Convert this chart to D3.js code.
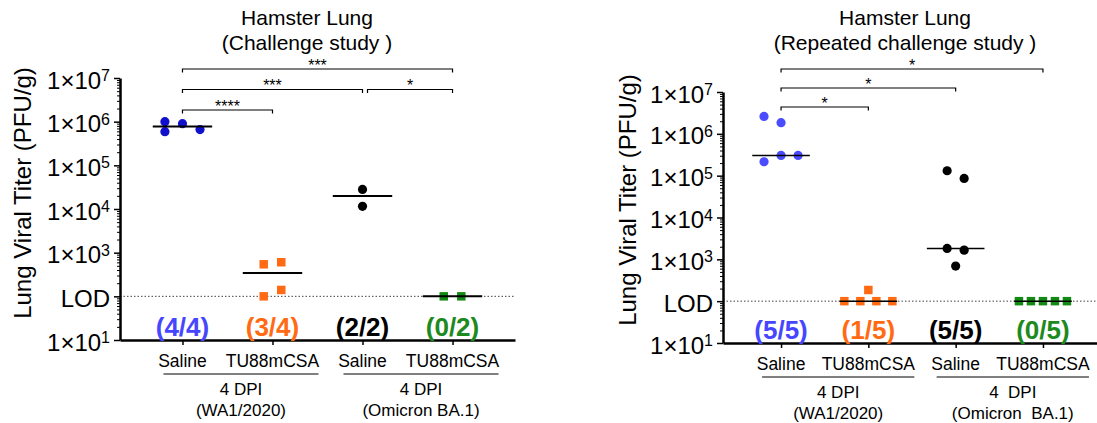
<!DOCTYPE html>
<html>
<head>
<meta charset="utf-8">
<script src="https://cdn.jsdelivr.net/npm/d3@7"></script>
<style>
  body { margin: 0; background: #fff; }
  text { font-family: "Liberation Sans", Arial, sans-serif; }
</style>
</head>
<body>
<div id="container"></div>
<script>
/* DATA */
const categories = ["Saline", "TU88mCSA", "Saline", "TU88mCSA"];
const LOD = 100;
const majorTicks = [10, 100, 1e3, 1e4, 1e5, 1e6, 1e7];

// Challenge study (left)
const challengeTitle = ["Hamster Lung", "(Challenge study )"];
const challengeSalineWA1 = [9e5, 1e6, 6.6e5, 5.9e5];
const challengeTU88WA1 = [603, 542, 140, 100];
const challengeSalineBA1 = [2.8e4, 1.15e4];
const challengeTU88BA1 = [100, 100];
const challengeCounts = ["(4/4)", "(3/4)", "(2/2)", "(0/2)"];
const challengeGroups = [["4 DPI", "(WA1/2020)"], ["4 DPI", "(Omicron BA.1)"]];
const challengeStats = [
  { a: 0, b: 1, stars: "****", level: 0 },
  { a: 0, b: 2, stars: "***", level: 1 },
  { a: 2, b: 3, stars: "*", level: 1 },
  { a: 0, b: 3, stars: "***", level: 2 }
];

// Repeated challenge study (right)
const repeatTitle = ["Hamster Lung", "(Repeated challenge study )"];
const repeatSalineWA1 = [1.85e6, 2.6e6, 3.05e5, 2.15e5, 3.05e5];
const repeatTU88WA1 = [100, 100, 100, 100, 185];
const repeatSalineBA1 = [8.6e4, 1.31e5, 1.66e3, 1.82e3, 690];
const repeatTU88BA1 = [100, 100, 100, 100, 100];
const repeatCounts = ["(5/5)", "(1/5)", "(5/5)", "(0/5)"];
const repeatGroups = [["4 DPI", "(WA1/2020)"], ["4  DPI", "(Omicron  BA.1)"]];
const repeatStats = [
  { a: 0, b: 1, stars: "*", level: 0 },
  { a: 0, b: 2, stars: "*", level: 1 },
  { a: 0, b: 3, stars: "*", level: 2 }
];

/* STYLE */
const countColors = ["#4646ff", "#ff6a13", "#000000", "#1c8a1c"];

const svg = d3.select("#container")
  .append("svg")
  .attr("width", 1097)
  .attr("height", 423);

// Prism-like scatter: greedy slots, then centre rows of touching points
function layoutPoints(values, y, step, spreadMax, minDist) {
  const pts = values.map(v => ({ v, py: y(v), slot: 0 }));
  const order = [0, -1, 1, -2, 2, -3, 3];
  pts.forEach((p, i) => {
    const placed = pts.slice(0, i);
    p.slot = order.find(s => !placed.some(q => q.slot === s && Math.abs(q.py - p.py) < minDist));
  });
  const sorted = pts.slice().sort((a, b) => a.py - b.py);
  const clusters = [];
  sorted.forEach((p, i) => {
    if (i && p.py - sorted[i - 1].py < minDist) clusters[clusters.length - 1].push(p);
    else clusters.push([p]);
  });
  const lo = c => d3.min(c, p => p.slot), hi = c => d3.max(c, p => p.slot);
  const maxW = d3.max(clusters, c => hi(c) - lo(c) + 1);
  const dx = Math.min(step, spreadMax / Math.max(1, maxW - 1));
  clusters.forEach(c => {
    const w = hi(c) - lo(c) + 1;
    const shift = (maxW % 2 === 0 || w % 2 === 1) ? -(hi(c) + lo(c)) / 2 : 0;
    c.forEach(p => { p.dx = (p.slot + shift) * dx; });
  });
  return pts;
}

function drawPanel(cfg) {
  const g = svg.append("g");

  const x = d3.scalePoint()
    .domain(d3.range(categories.length))
    .range([cfg.x0, cfg.x1])
    .padding(cfg.pad);

  const y = d3.scaleLog()
    .domain([10, 1e7])
    .range([cfg.yBottom, cfg.yTop]);

  // Titles
  cfg.title.forEach((t, i) => {
    g.append("text")
      .attr("x", cfg.titleX)
      .attr("y", 25 + i * 25)
      .attr("text-anchor", "middle")
      .attr("font-size", 21)
      .style("white-space", "pre")
      .text(t);
  });

  // Y axis label
  g.append("text")
    .attr("transform", `translate(${cfg.yLabelX},${cfg.yLabelY}) rotate(-90)`)
    .attr("text-anchor", "middle")
    .attr("font-size", 24)
    .text("Lung Viral Titer (PFU/g)");

  // LOD dotted line
  g.append("line")
    .attr("x1", cfg.x0)
    .attr("x2", cfg.x1)
    .attr("y1", y(LOD))
    .attr("y2", y(LOD))
    .attr("stroke", "#444")
    .attr("stroke-width", 1)
    .attr("stroke-dasharray", "1.5,2");

  // Minor ticks
  const minor = [];
  for (let k = 1; k < 7; k++) for (let m = 2; m < 10; m++) minor.push(m * Math.pow(10, k));
  const minorAxis = g.append("g")
    .attr("transform", `translate(${cfg.x0},0)`)
    .call(d3.axisLeft(y).tickValues(minor).tickSize(3).tickFormat(""));
  minorAxis.select(".domain").remove();
  minorAxis.selectAll("line").attr("stroke-width", 1);

  // Major y axis
  const yAxis = g.append("g")
    .attr("transform", `translate(${cfg.x0},0)`)
    .call(d3.axisLeft(y).tickValues(majorTicks).tickSize(6).tickSizeOuter(0).tickPadding(4));
  yAxis.attr("font-size", 24).attr("font-family", null);
  yAxis.select(".domain").attr("stroke-width", 2.5);
  yAxis.selectAll(".tick line").attr("stroke-width", 1.5);
  yAxis.selectAll(".tick text").each(function (d) {
    const t = d3.select(this).text("").attr("dy", "0.42em");
    if (d === LOD) { t.text("LOD"); return; }
    t.append("tspan").text("1×10");
    t.append("tspan")
      .attr("dy", -7.5)
      .attr("font-size", 16)
      .text(Math.round(Math.log10(d)));
  });

  // X axis
  const xAxis = g.append("g")
    .attr("transform", `translate(0,${cfg.yBottom})`)
    .call(d3.axisBottom(x).tickSize(5).tickSizeOuter(0).tickFormat(""));
  xAxis.select(".domain").attr("stroke-width", 2.5);
  xAxis.selectAll(".tick line").attr("stroke-width", 1.5);

  // Category labels
  g.selectAll(".cat")
    .data(categories)
    .enter()
    .append("text")
    .attr("x", (d, i) => x(i))
    .attr("y", cfg.yBottom + 27)
    .attr("text-anchor", "middle")
    .attr("font-size", 17.5)
    .text(d => d);

  // Group brackets under the axis
  cfg.groups.forEach((lines, gi) => {
    const a = x(gi * 2) - 19, b = x(gi * 2 + 1) + 46;
    g.append("line")
      .attr("x1", a).attr("x2", b)
      .attr("y1", cfg.yBottom + 34).attr("y2", cfg.yBottom + 34)
      .attr("stroke", "#000").attr("stroke-width", 1);
    lines.forEach((t, li) => {
      g.append("text")
        .attr("x", (a + b) / 2)
        .attr("y", cfg.yBottom + 55 + li * 21)
        .attr("text-anchor", "middle")
        .attr("font-size", 17)
        .style("white-space", "pre")
        .text(t);
    });
  });

  // Positive counts
  g.selectAll(".count")
    .data(cfg.counts)
    .enter()
    .append("text")
    .attr("x", (d, i) => x(i))
    .attr("y", cfg.yBottom - 4)
    .attr("text-anchor", "middle")
    .attr("font-size", 26)
    .attr("font-weight", "bold")
    .attr("fill", (d, i) => countColors[i])
    .text(d => d);

  // Significance brackets
  cfg.stats.forEach(s => {
    const by = cfg.statY - s.level * cfg.statStep;
    const shared = cfg.stats.some(o => o !== s && o.level === s.level && o.b === s.a);
    const a = x(s.a) + (shared ? 5 : 0), b = x(s.b);
    g.append("path")
      .attr("d", `M${a},${by + 3.5}V${by}H${b}V${by + 3.5}`)
      .attr("fill", "none")
      .attr("stroke", "#000")
      .attr("stroke-width", 1.2);
    g.append("text")
      .attr("x", (a + b) / 2)
      .attr("y", by + 1.5)
      .attr("text-anchor", "middle")
      .attr("font-size", 16)
      .text(s.stars);
  });

  // Points and medians
  const step = x.step();
  cfg.series.forEach((vals, i) => {
    const cx = x(i);
    const pts = layoutPoints(vals, y, step * 0.195, step * 0.55, 9);
    const sym = d3.symbol()
      .type(i % 2 === 0 ? d3.symbolCircle : d3.symbolSquare)
      .size(i % 2 === 0 ? Math.PI * 4.6 * 4.6 : 72);
    g.selectAll(null)
      .data(pts)
      .enter()
      .append("path")
      .attr("d", sym)
      .attr("transform", p => `translate(${cx + p.dx},${p.py})`)
      .attr("fill", cfg.colors[i]);

    const med = d3.median(vals);
    g.append("line")
      .attr("x1", cx - step * 0.33)
      .attr("x2", cx + step * 0.33)
      .attr("y1", y(med))
      .attr("y2", y(med))
      .attr("stroke", "#000")
      .attr("stroke-width", cfg.medWidth);
  });
}

drawPanel({
  x0: 120, x1: 515, pad: 0.694, yBottom: 340, yTop: 78,
  titleX: 307, yLabelX: 31, yLabelY: 193,
  title: challengeTitle,
  series: [challengeSalineWA1, challengeTU88WA1, challengeSalineBA1, challengeTU88BA1],
  colors: ["#1010cc", "#ff6a13", "#000000", "#138a13"],
  counts: challengeCounts,
  groups: challengeGroups,
  stats: challengeStats,
  statY: 110, statStep: 20.5,
  medWidth: 2
});

drawPanel({
  x0: 723, x1: 1101, pad: 0.665, yBottom: 343, yTop: 92,
  titleX: 905, yLabelX: 636, yLabelY: 200,
  title: repeatTitle,
  series: [repeatSalineWA1, repeatTU88WA1, repeatSalineBA1, repeatTU88BA1],
  colors: ["#4b4bff", "#ff6a13", "#000000", "#138a13"],
  counts: repeatCounts,
  groups: repeatGroups,
  stats: repeatStats,
  statY: 107, statStep: 19,
  medWidth: 1.5
});
</script>
</body>
</html>
